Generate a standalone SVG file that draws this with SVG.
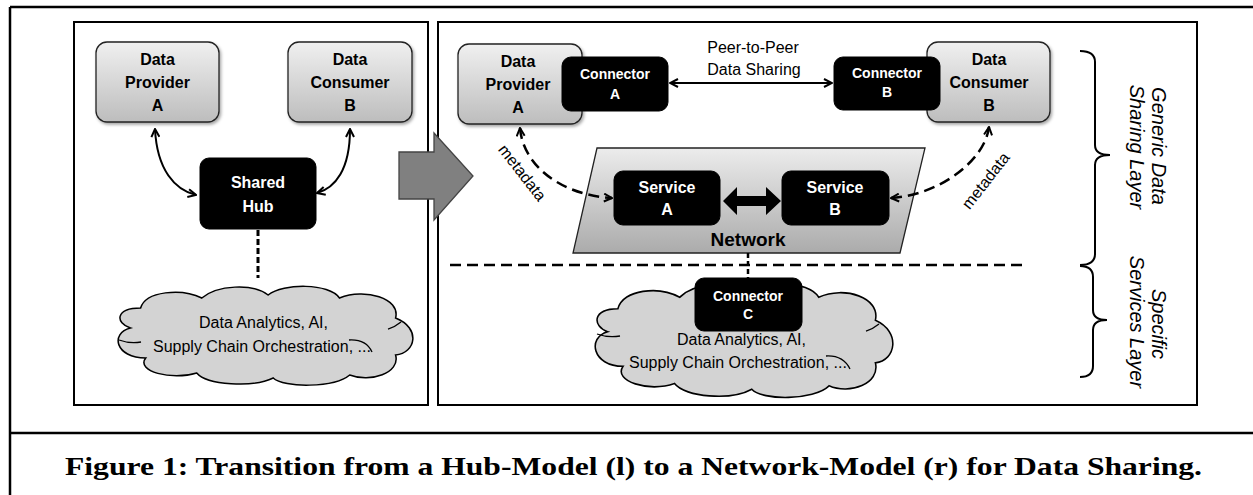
<svg xmlns="http://www.w3.org/2000/svg" width="1253" height="495" viewBox="0 0 1253 495">
<style>
.frame{fill:none;stroke:#000;stroke-width:2.5}
.panel{fill:#fff;stroke:#000;stroke-width:2}
.gbox{fill:url(#gGray);stroke:#222;stroke-width:1.3;filter:url(#sh)}
.blk{fill:#000;stroke:#000;stroke-width:1}
.lbl{font-family:"Liberation Sans",Arial,sans-serif;font-weight:bold;text-anchor:middle;fill:#000}
.wlbl{font-family:"Liberation Sans",Arial,sans-serif;font-weight:bold;text-anchor:middle;fill:#fff}
.txt{font-family:"Liberation Sans",Arial,sans-serif;font-size:16px;fill:#000}
.ital{font-family:"Liberation Sans",Arial,sans-serif;font-style:italic;font-size:20px;text-anchor:middle;fill:#000}
.cloud{fill:#d3d3d3;stroke:#000;stroke-width:1.5}
.carc{fill:none;stroke:#000;stroke-width:1.3}
.line{fill:none;stroke:#000;stroke-width:2}
.dash{fill:none;stroke:#000;stroke-width:2.5;stroke-dasharray:11,6}
.arr{marker-start:url(#chev);marker-end:url(#chev)}
</style>
<defs>
<linearGradient id="gGray" x1="0" y1="0" x2="0" y2="1">
<stop offset="0" stop-color="#f0f0f0"/>
<stop offset="1" stop-color="#bdbdbd"/>
</linearGradient>
<linearGradient id="gNet" x1="0" y1="0" x2="0" y2="1">
<stop offset="0" stop-color="#ececec"/>
<stop offset="1" stop-color="#ababab"/>
</linearGradient>
<filter id="sh" x="-10%" y="-10%" width="130%" height="130%">
<feDropShadow dx="1.5" dy="2" stdDeviation="1.5" flood-color="#000" flood-opacity="0.35"/>
</filter>
<marker id="chev" viewBox="0 0 10 10" refX="9" refY="5" markerWidth="10" markerHeight="10" markerUnits="userSpaceOnUse" orient="auto-start-reverse">
<path d="M1,1 L9,5 L1,9" fill="none" stroke="#000" stroke-width="2"/>
</marker>
<path id="cloudShape" d="M20,45 C5,40 5,25 30,25 C35,8 70,5 90,15 C105,2 140,0 155,12 C170,0 215,0 225,15 C250,5 285,15 280,35 C305,45 300,70 280,72 C285,90 255,100 235,92 C220,105 170,105 160,95 C140,105 95,102 85,90 C60,98 25,88 35,75 C5,75 0,50 20,45 Z"/>
</defs>

<rect width="1253" height="495" fill="#fff"/>
<g id="outer-frame">
<line class="frame" x1="10" y1="7" x2="1253" y2="7"/>
<line class="frame" x1="10" y1="7" x2="10" y2="495"/>
<line class="frame" x1="10" y1="433" x2="1253" y2="433"/>
</g>

<g id="panels">
<rect class="panel" x="74" y="22" width="354" height="383"/>
<rect class="panel" x="438" y="22" width="759" height="383"/>
</g>

<!-- Left panel: hub model -->
<g id="left-cloud">
<g transform="translate(110,283) scale(1.02,1)">
<use href="#cloudShape" class="cloud" style="vector-effect:non-scaling-stroke"/>
</g>
<path class="carc" d="M119,340 Q130,344 141,342"/>
<path class="carc" d="M388,329 Q395,327 401,322"/>
<path class="carc" d="M349,340 Q366,339 372,352"/>
<text class="txt" x="199" y="328">Data Analytics, AI,</text>
<text class="txt" x="153" y="352">Supply Chain Orchestration, ...</text>
</g>

<g id="left-provider">
<rect class="gbox" x="96" y="42" width="123" height="80" rx="11"/>
<text class="lbl" font-size="16" x="157.5" y="65">Data</text>
<text class="lbl" font-size="16" x="157.5" y="88">Provider</text>
<text class="lbl" font-size="16" x="157.5" y="111">A</text>
</g>
<g id="left-consumer">
<rect class="gbox" x="288" y="42" width="124" height="80" rx="11"/>
<text class="lbl" font-size="16" x="350" y="65">Data</text>
<text class="lbl" font-size="16" x="350" y="88">Consumer</text>
<text class="lbl" font-size="16" x="350" y="111">B</text>
</g>
<g id="shared-hub">
<rect class="blk" x="200" y="158" width="116" height="71" rx="9"/>
<text class="wlbl" font-size="16" x="258" y="188">Shared</text>
<text class="wlbl" font-size="16" x="258" y="212">Hub</text>
</g>

<g id="transition-arrow">
<polygon points="399,152 434,152 434,133 473,176 434,220 434,199 399,199" fill="#808080" stroke="#444" stroke-width="1.3"/>
</g>

<!-- Right panel: network model -->
<g id="network">
<polygon points="597,148 925,148 900,253 573,253" fill="url(#gNet)" stroke="#222" stroke-width="1.3"/>
<text class="lbl" font-size="19" x="748" y="246">Network</text>
</g>

<g id="right-cloud">
<g transform="translate(587,280) scale(1.03,1.15)">
<use href="#cloudShape" class="cloud" style="vector-effect:non-scaling-stroke"/>
</g>
<path class="carc" d="M597,334 Q608,338 620,336"/>
<path class="carc" d="M866,331 Q873,329 879,324"/>
<path class="carc" d="M826,356 Q843,355 850,369"/>
<text class="txt" x="677" y="345">Data Analytics, AI,</text>
<text class="txt" x="629" y="368">Supply Chain Orchestration, ...</text>
</g>

<g id="right-provider">
<rect class="gbox" x="458" y="44" width="124" height="80" rx="11"/>
<text class="lbl" font-size="16" x="518" y="67">Data</text>
<text class="lbl" font-size="16" x="518" y="90">Provider</text>
<text class="lbl" font-size="16" x="518" y="113">A</text>
</g>
<g id="connector-a">
<rect class="blk" x="562" y="57" width="106" height="54" rx="9"/>
<text class="wlbl" font-size="14" x="615" y="79">Connector</text>
<text class="wlbl" font-size="14" x="615" y="99">A</text>
</g>
<g id="right-consumer">
<rect class="gbox" x="927" y="42" width="123" height="80" rx="11"/>
<text class="lbl" font-size="16" x="989" y="65">Data</text>
<text class="lbl" font-size="16" x="989" y="88">Consumer</text>
<text class="lbl" font-size="16" x="989" y="111">B</text>
</g>
<g id="connector-b">
<rect class="blk" x="834" y="57" width="106" height="53" rx="9"/>
<text class="wlbl" font-size="14" x="887" y="78">Connector</text>
<text class="wlbl" font-size="14" x="887" y="97">B</text>
</g>
<g id="service-a">
<rect class="blk" x="614" y="171" width="106" height="54" rx="9"/>
<text class="wlbl" font-size="16" x="667" y="193">Service</text>
<text class="wlbl" font-size="16" x="667" y="215">A</text>
</g>
<g id="service-b">
<rect class="blk" x="782" y="171" width="107" height="54" rx="9"/>
<text class="wlbl" font-size="16" x="835" y="193">Service</text>
<text class="wlbl" font-size="16" x="835" y="215">B</text>
</g>
<g id="connector-c">
<rect class="blk" x="695" y="278" width="107" height="53" rx="9"/>
<text class="wlbl" font-size="14" x="748" y="301">Connector</text>
<text class="wlbl" font-size="14" x="748" y="319">C</text>
</g>

<g id="connectors">
<!-- left panel -->
<path class="line arr" d="M155,129 C157,170 175,190 196,195"/>
<path class="line arr" d="M350,129 C350,170 335,188 317,193"/>
<line x1="258" y1="230" x2="258" y2="278" stroke="#000" stroke-width="3" stroke-dasharray="6,3"/>
<!-- right panel -->
<line class="line arr" x1="670" y1="83" x2="832" y2="83"/>
<text class="txt" x="753" y="53" text-anchor="middle">Peer-to-Peer</text>
<text class="txt" x="754" y="75" text-anchor="middle">Data Sharing</text>
<path class="dash arr" d="M520,128 C523,165 560,195 612,198"/>
<text class="txt" font-size="15" text-anchor="middle" transform="translate(518,176) rotate(52)">metadata</text>
<path class="dash arr" d="M891,198 C940,195 985,160 989,127"/>
<text class="txt" font-size="15" text-anchor="middle" transform="translate(990,184) rotate(-52)">metadata</text>
<polygon points="723,201 737,187 737,196 766,196 766,187 781,201 766,215 766,206 737,206 737,215" fill="#000"/>
<line x1="748" y1="253" x2="748" y2="278" stroke="#000" stroke-width="2.5" stroke-dasharray="5,3"/>
<line class="dash" x1="450" y1="265" x2="1027" y2="265" stroke-dasharray="15,7"/>
</g>

<g id="layer-braces">
<path class="line" d="M1080,51 Q1095,51 1095,62 L1095,145 Q1095,155 1110,155 Q1095,155 1095,165 L1095,254 Q1095,265 1080,265"/>
<path class="line" d="M1080,266 Q1093,266 1093,277 L1093,310 Q1093,320 1107,320 Q1093,320 1093,330 L1093,366 Q1093,377 1080,377"/>
<text class="ital" transform="translate(1152,146) rotate(90)">Generic Data</text>
<text class="ital" transform="translate(1130,147) rotate(90)">Sharing Layer</text>
<text class="ital" transform="translate(1152,324) rotate(90)">Specific</text>
<text class="ital" transform="translate(1130,322) rotate(90)">Services Layer</text>
</g>

<g id="caption">
<text x="65" y="475" font-family="'Liberation Serif','Times New Roman',serif" font-weight="bold" font-size="25" textLength="1137" lengthAdjust="spacingAndGlyphs">Figure 1: Transition from a Hub-Model (l) to a Network-Model (r) for Data Sharing.</text>
</g>
</svg>
